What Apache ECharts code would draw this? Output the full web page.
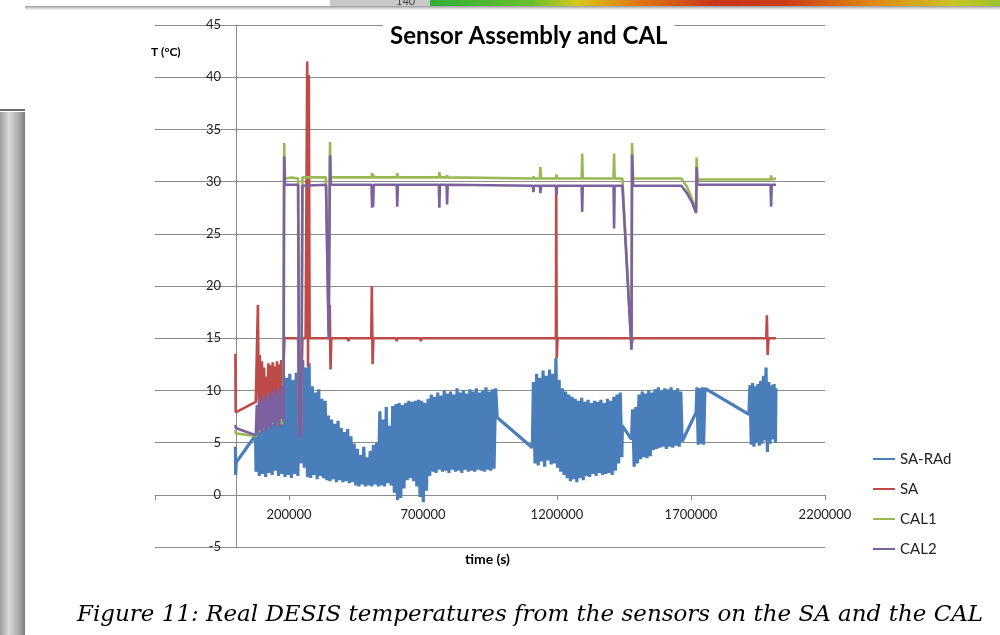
<!DOCTYPE html>
<html>
<head>
<meta charset="utf-8">
<script src="https://cdn.jsdelivr.net/npm/echarts@6/dist/echarts.min.js"></script>
<style>
  html, body { margin: 0; padding: 0; background: #fff; }
  #chart { width: 1000px; height: 635px; }
</style>
</head>
<body>
<div id="chart"></div>
<script>
// Legend names, in Excel's series order
const seriesNames = ['SA-RAd', 'SA', 'CAL1', 'CAL2'];
const seriesColors = ['#4a7ebb', '#be4b48', '#98b954', '#7d60a0'];

// x tick labels shown on the time axis (the -300000 tick at the left edge is blank)
const timeTicks = [200000, 700000, 1200000, 1700000, 2200000];

// SA-RAd: [time (s), T (°C)]
const saRadData = [
  [0, 4.6], [1000, 1.9], [3000, 3.1], [75000, 5.7],
  [77000, 2.2], [83000, 7.0], [89000, 1.8], [95000, 7.4], [101000, 2.0], [107000, 7.8],
  [113000, 1.7], [119000, 7.2], [125000, 2.1], [131000, 8.0], [137000, 1.9], [143000, 7.6],
  [149000, 2.3], [155000, 8.3], [161000, 1.8], [167000, 8.8], [173000, 2.0], [179000, 10.6],
  [185000, 1.7], [191000, 11.2], [197000, 1.9], [203000, 11.6], [209000, 1.6], [215000, 11.0],
  [221000, 2.0], [227000, 11.7], [233000, 1.8], [239000, 11.3], [245000, 3.0], [251000, 12.9],
  [257000, 2.6], [263000, 12.2], [269000, 1.7], [275000, 12.6], [281000, 1.6], [287000, 10.4],
  [293000, 1.9], [299000, 9.8], [305000, 1.5], [311000, 10.1], [317000, 1.8], [323000, 9.2],
  [329000, 1.6], [335000, 9.0], [341000, 1.4], [347000, 7.6], [353000, 1.3], [359000, 7.2],
  [365000, 1.5], [371000, 6.8], [377000, 1.2], [383000, 7.1], [389000, 1.4], [395000, 6.4],
  [401000, 1.2], [407000, 6.0], [413000, 1.3], [419000, 6.3], [425000, 1.1], [431000, 5.6],
  [437000, 1.2], [443000, 4.9], [449000, 0.9], [455000, 4.4], [461000, 0.8], [467000, 3.8],
  [473000, 1.0], [479000, 4.6], [485000, 0.8], [491000, 3.6], [497000, 0.9], [503000, 4.2],
  [509000, 0.8], [515000, 4.8], [521000, 1.0], [527000, 5.0], [533000, 0.8], [539000, 8.0],
  [545000, 0.9], [551000, 7.2], [557000, 0.8], [563000, 8.4], [569000, 1.1], [575000, 6.6],
  [581000, 0.9], [587000, 8.5], [593000, 0.2], [599000, 8.7], [605000, -0.5], [611000, 8.8],
  [617000, -0.3], [623000, 8.6], [629000, 0.6], [635000, 8.8], [641000, 1.4], [647000, 9.0],
  [653000, 1.6], [659000, 8.9], [665000, 1.3], [671000, 9.0], [677000, 0.8], [683000, 9.1],
  [689000, -0.2], [695000, 9.0], [701000, -0.7], [707000, 8.8], [713000, 0.4], [719000, 9.2],
  [725000, 1.8], [731000, 9.6], [737000, 2.2], [743000, 9.4], [749000, 2.1], [755000, 9.8],
  [761000, 2.4], [767000, 9.5], [773000, 2.2], [779000, 10.0], [785000, 2.3], [791000, 9.7],
  [797000, 2.1], [803000, 9.9], [809000, 2.4], [815000, 9.6], [821000, 2.2], [827000, 10.2],
  [833000, 2.3], [839000, 9.8], [845000, 2.1], [851000, 10.0], [857000, 2.4], [863000, 9.7],
  [869000, 2.2], [875000, 10.1], [881000, 2.3], [887000, 9.9], [893000, 2.2], [899000, 10.2],
  [905000, 2.4], [911000, 9.8], [917000, 2.3], [923000, 10.0], [929000, 2.2], [935000, 10.3],
  [941000, 2.4], [947000, 9.9], [953000, 2.3], [959000, 10.1], [965000, 2.5], [971000, 10.2],
  [977000, 7.4],
  [1108000, 4.5], [1112000, 10.8], [1118000, 3.0], [1124000, 11.6], [1130000, 2.8], [1136000, 11.2],
  [1142000, 3.2], [1148000, 11.9], [1154000, 2.7], [1160000, 11.4], [1166000, 3.3], [1172000, 12.0],
  [1178000, 2.9], [1184000, 11.6], [1190000, 3.0], [1196000, 13.1], [1202000, 2.6], [1208000, 11.0],
  [1214000, 2.2], [1220000, 10.2], [1226000, 1.9], [1232000, 9.9], [1238000, 1.6], [1244000, 9.6],
  [1250000, 1.3], [1256000, 9.4], [1262000, 1.5], [1268000, 9.2], [1274000, 1.2], [1280000, 9.0],
  [1286000, 1.6], [1292000, 9.3], [1298000, 1.4], [1304000, 8.9], [1310000, 1.8], [1316000, 9.1],
  [1322000, 1.7], [1328000, 8.8], [1334000, 2.0], [1340000, 9.0], [1346000, 1.8], [1352000, 8.9],
  [1358000, 2.1], [1364000, 9.1], [1370000, 1.9], [1376000, 8.8], [1382000, 2.0], [1388000, 9.2],
  [1394000, 2.1], [1400000, 9.0], [1406000, 1.9], [1412000, 9.4], [1418000, 2.3], [1424000, 9.6],
  [1430000, 3.0], [1436000, 9.8], [1442000, 3.6], [1444000, 6.6],
  [1478000, 5.3], [1482000, 8.2], [1488000, 2.7], [1494000, 8.4], [1500000, 3.0], [1506000, 9.6],
  [1512000, 3.4], [1518000, 9.9], [1524000, 3.6], [1530000, 9.7], [1536000, 3.5], [1542000, 10.0],
  [1548000, 3.7], [1554000, 9.8], [1560000, 4.3], [1566000, 10.1], [1572000, 4.4], [1578000, 10.3],
  [1584000, 4.5], [1590000, 10.0], [1596000, 4.6], [1602000, 10.2], [1608000, 4.4], [1614000, 10.1],
  [1620000, 4.6], [1626000, 10.3], [1632000, 4.5], [1638000, 10.0], [1644000, 4.7], [1650000, 10.2],
  [1656000, 4.6], [1662000, 9.9], [1667000, 5.1],
  [1719000, 7.9], [1722000, 10.3], [1727000, 4.8], [1732000, 10.2], [1737000, 4.9], [1742000, 10.3],
  [1747000, 4.8], [1752000, 10.2], [1756000, 10.1],
  [1916000, 7.7], [1920000, 10.5], [1925000, 4.8], [1930000, 10.7], [1935000, 4.6], [1940000, 10.4],
  [1945000, 5.0], [1950000, 10.6], [1955000, 4.7], [1960000, 10.9], [1965000, 4.9], [1970000, 11.4],
  [1975000, 5.2], [1980000, 12.2], [1985000, 4.1], [1990000, 10.8], [1995000, 4.9], [2000000, 10.5],
  [2005000, 5.3], [2010000, 10.6], [2015000, 5.0], [2017000, 10.2]
];

// SA
const saData = [
  [0, 13.5], [1000, 7.9], [76000, 8.9],
  [80000, 13.6], [84000, 18.2], [87000, 9.0], [91000, 13.4], [95000, 8.6], [99000, 12.8],
  [103000, 7.9], [107000, 12.2], [111000, 8.4], [115000, 11.3], [119000, 7.6], [123000, 12.6],
  [127000, 8.1], [131000, 12.4], [135000, 7.8], [139000, 12.7], [143000, 8.6], [147000, 12.3],
  [151000, 7.4], [155000, 12.8], [159000, 8.2], [163000, 12.5], [167000, 6.6], [171000, 12.9],
  [175000, 7.2], [179000, 12.2], [183000, 15.0],
  [234000, 15.0], [238000, 6.5], [244000, 6.8], [250000, 15.0], [262000, 15.0],
  [268000, 41.5], [271000, 12.3], [274000, 40.2], [277000, 15.0],
  [350000, 15.0], [352000, 18.2], [355000, 12.0], [358000, 15.0],
  [420000, 15.0], [422000, 14.7], [424000, 15.0],
  [507000, 15.0], [509000, 20.0], [512000, 12.5], [515000, 15.0],
  [600000, 15.0], [602000, 14.7], [604000, 15.0], [690000, 15.0], [692000, 14.7], [694000, 15.0],
  [1196000, 15.0], [1197000, 29.5], [1199000, 13.1], [1202000, 15.0],
  [1478000, 15.0], [1480000, 14.5], [1482000, 15.0],
  [1981000, 15.0], [1983000, 17.2], [1986000, 13.4], [1989000, 15.0],
  [2017000, 15.0]
];

// CAL1
const cal1Data = [
  [0, 6.2], [1000, 5.9], [76000, 5.6],
  [82000, 6.6], [88000, 6.0], [94000, 6.9], [100000, 6.3], [106000, 7.0], [112000, 6.5],
  [118000, 7.2], [124000, 6.6], [130000, 7.4], [136000, 6.8], [142000, 7.5], [148000, 7.0],
  [154000, 7.6], [160000, 7.1], [166000, 7.3], [172000, 6.8], [178000, 7.4],
  [182000, 33.7], [185000, 30.3], [210000, 30.4], [234000, 30.3],
  [238000, 6.0], [246000, 6.4], [250000, 30.4], [338000, 30.4],
  [348000, 15.5], [353000, 33.8], [356000, 30.4],
  [508000, 30.4], [510000, 30.8], [512000, 30.3], [514000, 30.7], [516000, 30.4],
  [602000, 30.4], [604000, 30.8], [606000, 30.4],
  [759000, 30.4], [761000, 30.9], [763000, 30.4], [788000, 30.4], [790000, 30.6], [792000, 30.4],
  [1110000, 30.3], [1112000, 30.5], [1114000, 30.3],
  [1136000, 30.3], [1138000, 31.4], [1140000, 30.3],
  [1196000, 30.3], [1198000, 30.7], [1200000, 30.3],
  [1292000, 30.3], [1294000, 32.7], [1296000, 30.3],
  [1411000, 30.3], [1413000, 32.7], [1415000, 30.3], [1444000, 30.3],
  [1478000, 13.9], [1480000, 33.7], [1484000, 30.3],
  [1664000, 30.3], [1685000, 29.5], [1704000, 28.3], [1719000, 27.2],
  [1721000, 32.3], [1724000, 30.2],
  [1997000, 30.2], [1999000, 30.6], [2001000, 30.2], [2017000, 30.3]
];

// CAL2
const cal2Data = [
  [0, 6.7], [1000, 6.4], [76000, 5.7],
  [80000, 8.6], [84000, 5.9], [88000, 9.2], [92000, 6.2], [96000, 8.8], [100000, 6.0],
  [104000, 9.5], [108000, 6.4], [112000, 9.0], [116000, 6.1], [120000, 9.7], [124000, 6.6],
  [128000, 9.3], [132000, 6.3], [136000, 9.8], [140000, 6.9], [144000, 10.0], [148000, 6.5],
  [152000, 9.6], [156000, 7.1], [160000, 10.2], [164000, 6.8], [168000, 9.7], [172000, 7.3],
  [176000, 10.5], [180000, 7.0],
  [182000, 32.4], [185000, 29.7], [234000, 29.7],
  [238000, 5.5], [246000, 5.8], [250000, 29.6], [338000, 29.7],
  [348000, 15.0], [353000, 32.5], [356000, 29.7],
  [508000, 29.7], [510000, 27.5], [512000, 29.7], [514000, 27.6], [516000, 29.7],
  [602000, 29.7], [604000, 27.6], [606000, 29.7],
  [759000, 29.7], [761000, 27.5], [763000, 29.7], [788000, 29.7], [790000, 27.8], [792000, 29.7],
  [1110000, 29.6], [1112000, 29.0], [1114000, 29.6],
  [1136000, 29.6], [1138000, 28.9], [1140000, 29.6],
  [1196000, 29.6], [1198000, 28.7], [1200000, 29.6],
  [1292000, 29.6], [1294000, 27.1], [1296000, 29.6],
  [1411000, 29.6], [1413000, 25.5], [1415000, 29.6], [1444000, 29.6],
  [1478000, 13.9], [1480000, 32.6], [1484000, 29.6],
  [1664000, 29.6], [1685000, 28.9], [1704000, 28.0], [1719000, 27.0],
  [1721000, 31.4], [1724000, 29.7],
  [1997000, 29.7], [1999000, 27.6], [2001000, 29.7], [2017000, 29.7]
];

const seriesData = [saRadData, saData, cal1Data, cal2Data];
const seriesWidths = [3.2, 2.6, 2.6, 2.6];

const GRID_GRAY = '#8a8a8a';
const LABEL_FONT = 'Lato, "Liberation Sans", sans-serif';

function lineSeries(i) {
    return {
        name: seriesNames[i],
        type: 'line',
        data: seriesData[i],
        symbol: 'none',
        color: seriesColors[i],
        lineStyle: { width: seriesWidths[i], color: seriesColors[i] },
        emphasis: { disabled: true },
        animation: false,
    };
}

// Screenshot surroundings: the grey window edge on the left and the colour bar at the top
function backdrop() {
    return [
        {
            type: 'rect', z: -1,
            shape: { x: 0, y: 112, width: 25, height: 523 },
            style: {
                fill: new echarts.graphic.LinearGradient(0, 0, 1, 0, [
                    { offset: 0, color: '#9c9c9c' },
                    { offset: 0.35, color: '#dadada' },
                    { offset: 0.75, color: '#a9a9a9' },
                    { offset: 1, color: '#7a7a7a' },
                ]),
            },
        },
        { type: 'rect', z: -1, shape: { x: 0, y: 109, width: 25, height: 2 }, style: { fill: '#6a6a6a' } },
        {
            type: 'rect', z: -1,
            shape: { x: 330, y: 0, width: 100, height: 7 },
            style: { fill: '#c8c8c8' },
        },
        {
            type: 'text', z: -1, x: 396, y: -4,
            style: { text: '140', font: '11px ' + LABEL_FONT, fill: '#444' },
        },
        {
            type: 'rect', z: -1,
            shape: { x: 430, y: 0, width: 570, height: 7 },
            style: {
                fill: new echarts.graphic.LinearGradient(0, 0, 1, 0, [
                    { offset: 0, color: '#2fae3a' },
                    { offset: 0.18, color: '#6cc02c' },
                    { offset: 0.26, color: '#d6c81e' },
                    { offset: 0.36, color: '#e07a12' },
                    { offset: 0.5, color: '#c9361a' },
                    { offset: 0.62, color: '#cc3c16' },
                    { offset: 0.78, color: '#e08a14' },
                    { offset: 0.92, color: '#c8c426' },
                    { offset: 1, color: '#9cc22a' },
                ]),
            },
        },
        {
            type: 'rect', z: -1,
            shape: { x: 25, y: 6, width: 975, height: 4 },
            style: {
                fill: new echarts.graphic.LinearGradient(0, 0, 0, 1, [
                    { offset: 0, color: '#9a9a9a' },
                    { offset: 1, color: '#ffffff' },
                ]),
            },
        },
    ];
}

const chart = echarts.init(document.getElementById('chart'), null, { renderer: 'canvas' });

chart.setOption({
    backgroundColor: '#fff',
    animation: false,
    title: [
        {
            text: 'Sensor Assembly and CAL',
            left: 383, top: 22,
            padding: [2, 7],
            backgroundColor: '#fff',
            textStyle: { fontFamily: LABEL_FONT, fontWeight: 'bold', fontSize: 24, color: '#000' },
        },
        {
            text: 'T (°C)',
            left: 151, top: 46, padding: 0,
            textStyle: { fontFamily: LABEL_FONT, fontWeight: 'bold', fontSize: 12, color: '#000' },
        },
        {
            text: 'time (s)',
            left: 465, top: 552, padding: 0,
            textStyle: { fontFamily: LABEL_FONT, fontWeight: 'bold', fontSize: 14, color: '#000' },
        },
        {
            text: 'Figure 11: Real DESIS temperatures from the sensors on the SA and the CAL',
            left: 77, top: 604, padding: 0,
            textStyle: {
                fontFamily: '"DejaVu Serif", serif', fontStyle: 'italic',
                fontWeight: 'normal', fontSize: 23, color: '#000',
            },
        },
    ],
    legend: {
        orient: 'vertical',
        left: 868, top: 446,
        icon: 'rect',
        itemWidth: 22, itemHeight: 2, itemGap: 14,
        data: seriesNames,
        textStyle: { fontFamily: LABEL_FONT, fontSize: 15, color: '#222', lineHeight: 16 },
    },
    grid: { left: 155, right: 175, top: 25, bottom: 88, containLabel: false },
    xAxis: {
        type: 'value',
        min: -300000, max: 2200000, interval: 500000,
        // axis sits on T = 0: 5 degrees (52 px) above the bottom of the plot
        offset: -52,
        axisLine: { onZero: false, lineStyle: { color: GRID_GRAY, width: 1 } },
        axisTick: { show: true, length: 5, lineStyle: { color: GRID_GRAY } },
        axisLabel: {
            margin: 13,
            fontFamily: LABEL_FONT, fontSize: 13, color: '#222',
            formatter: (v) => (timeTicks.includes(v) ? String(v) : ''),
        },
        splitLine: { show: false },
    },
    yAxis: {
        type: 'value',
        min: -5, max: 45, interval: 5,
        // axis sits on t = 0: 300000 s (81 px) right of the plot's left edge
        offset: -81,
        axisLine: { show: true, onZero: false, lineStyle: { color: GRID_GRAY, width: 1 } },
        axisTick: { show: false },
        axisLabel: { margin: 15, fontFamily: LABEL_FONT, fontSize: 13, color: '#222' },
        splitLine: { show: true, lineStyle: { color: GRID_GRAY, width: 1 } },
    },
    graphic: backdrop(),
    series: seriesNames.map((_, i) => lineSeries(i)),
});
</script>
</body>
</html>
